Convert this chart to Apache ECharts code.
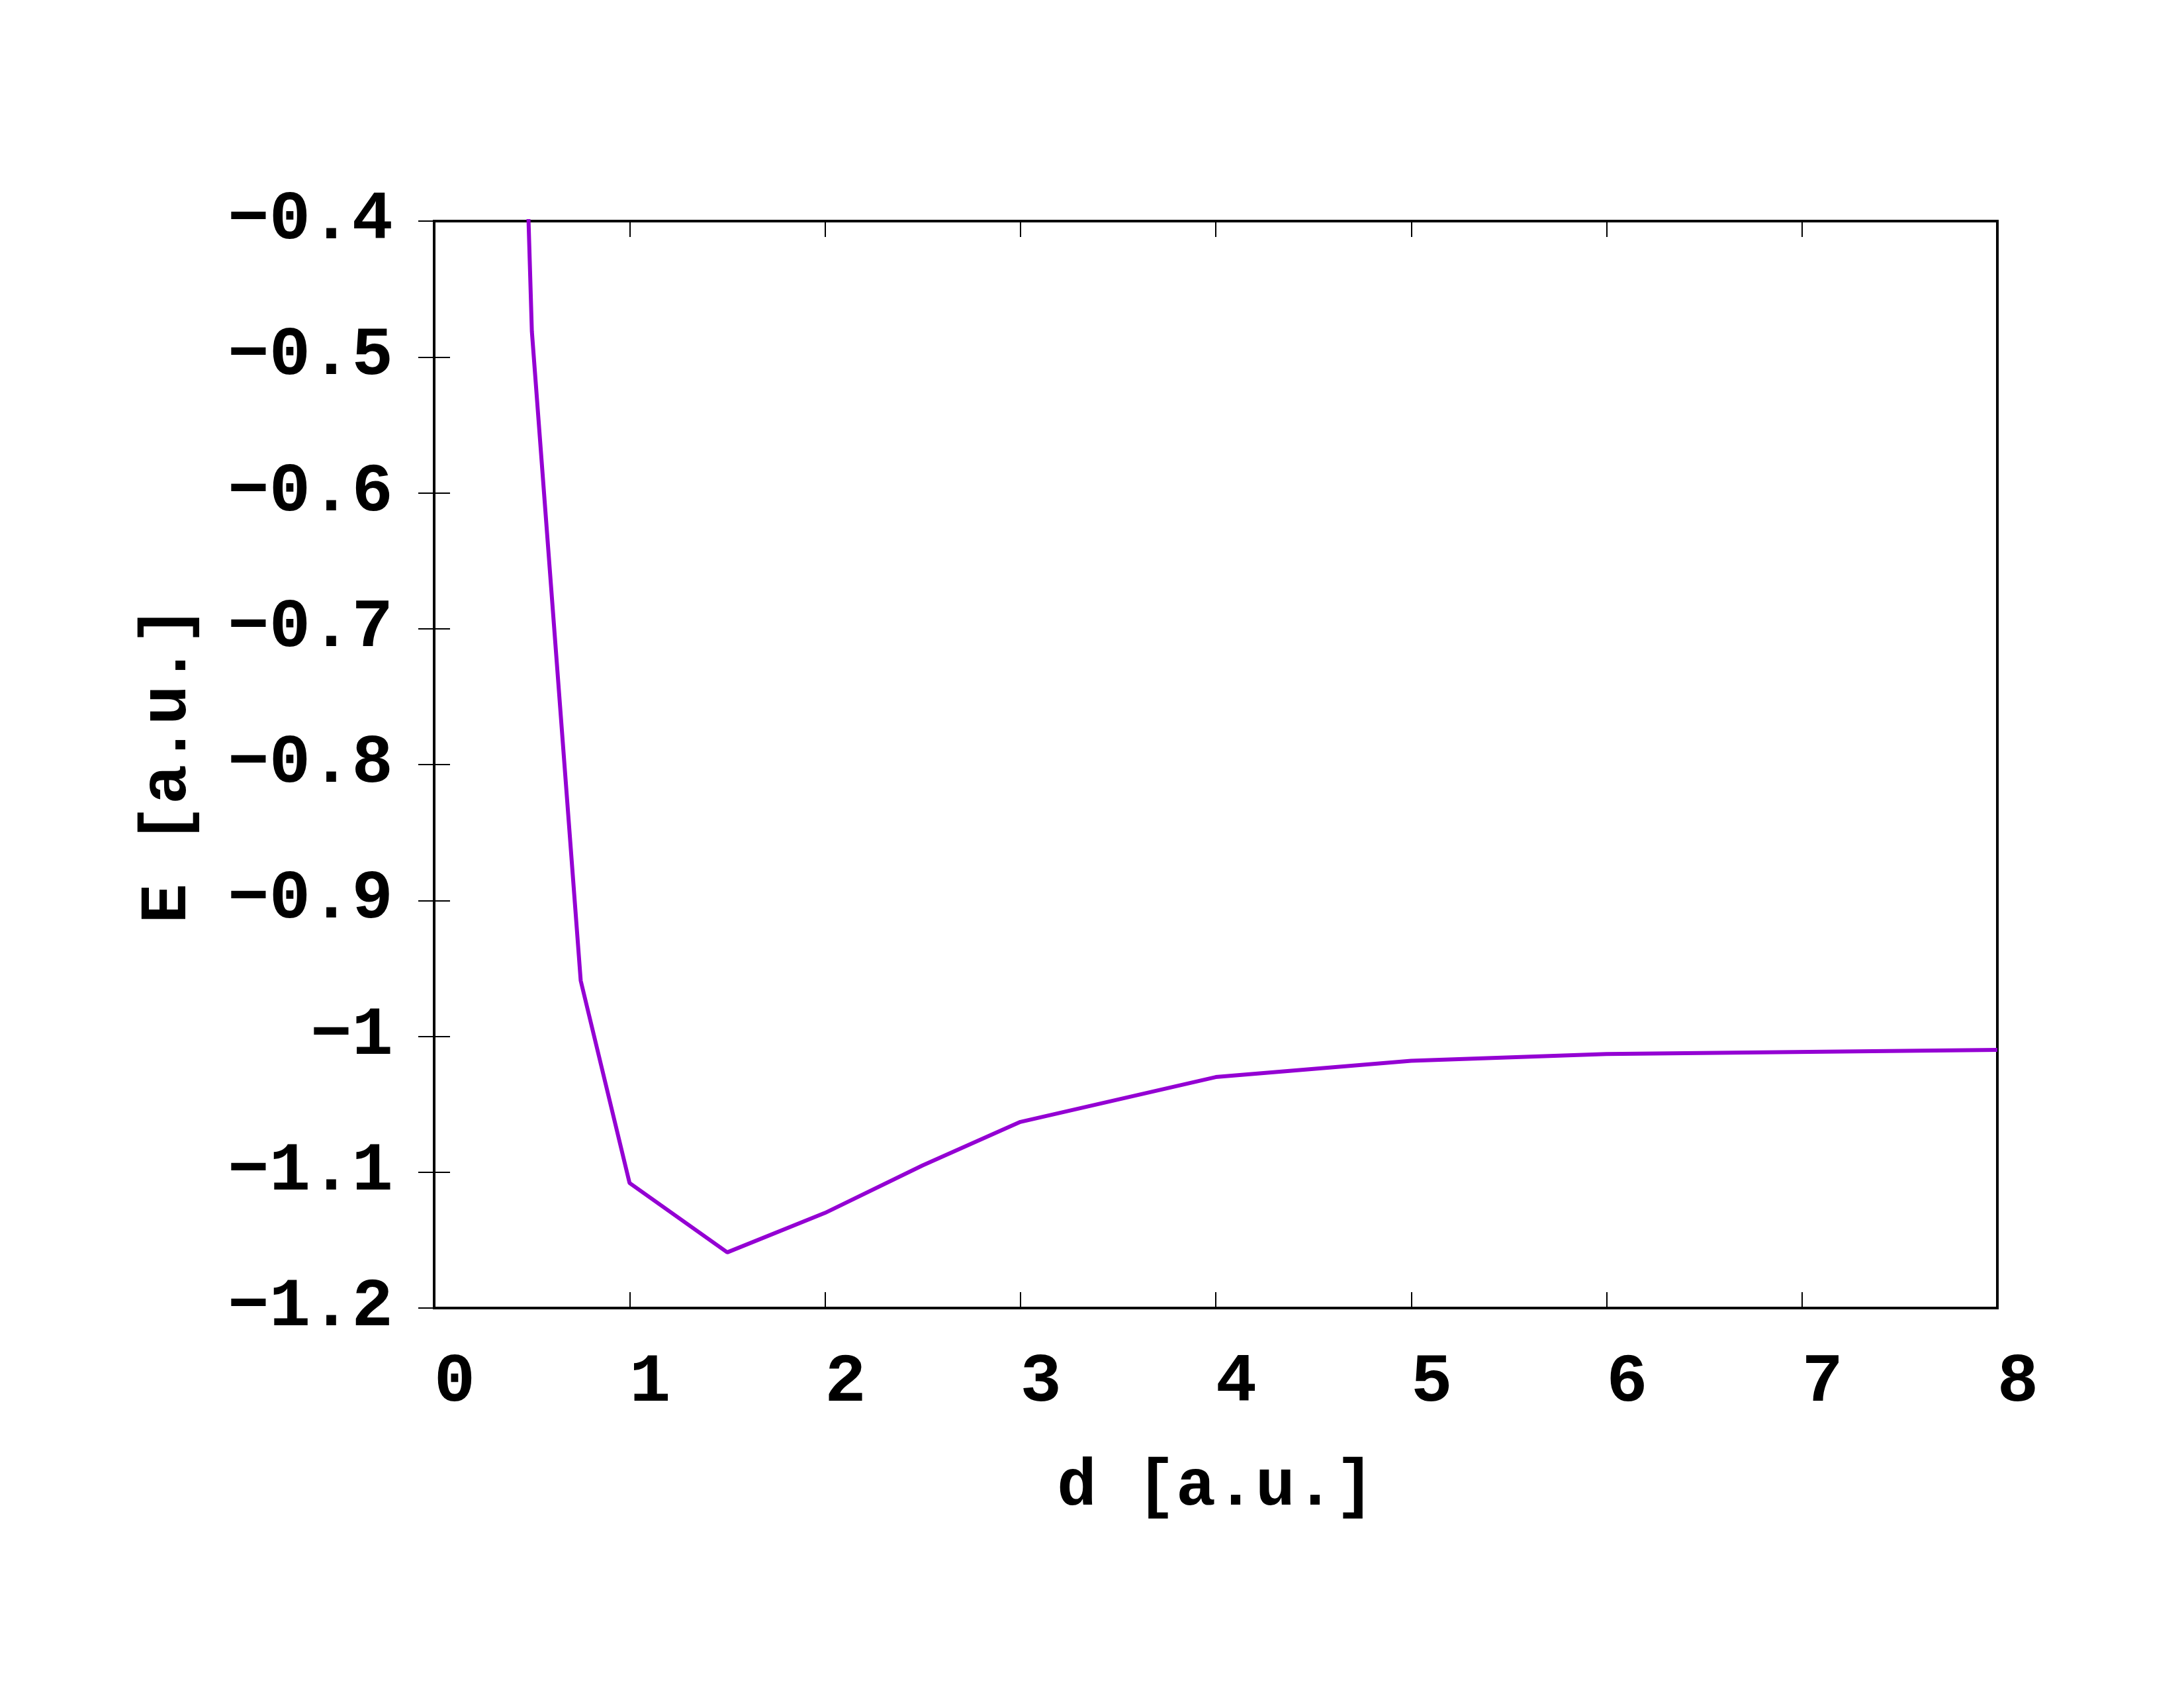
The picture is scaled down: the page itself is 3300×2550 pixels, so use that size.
<!DOCTYPE html>
<html>
<head>
<meta charset="utf-8">
<script src="https://cdn.jsdelivr.net/npm/echarts@6/dist/echarts.min.js"></script>
<style>
html,body{margin:0;padding:0;background:#fff;}
#chart{width:3300px;height:2550px;}
</style>
</head>
<body>
<div id="chart"></div>
<script>
// Data
const distances = [0.4, 0.5, 0.75, 1.0, 1.5, 2.0, 2.5, 3.0, 4.0, 5.0, 6.0, 8.0];
const energies = [-0.003, -0.481, -0.959, -1.108, -1.159, -1.130, -1.095, -1.063, -1.030, -1.018, -1.013, -1.010];
const xTicks = [0, 1, 2, 3, 4, 5, 6, 7, 8];
const yTicks = [-1.2, -1.1, -1.0, -0.9, -0.8, -0.7, -0.6, -0.5, -0.4];
const xTitle = 'd [a.u.]';
const yTitle = 'E [a.u.]';

const FONT = '"Liberation Mono", "Courier New", monospace';
const FS = 104;
const fmt = v => String(Math.round(v * 10) / 10).replace('-', '\u2212');

const chart = echarts.init(document.getElementById('chart'), null, {renderer: 'canvas'});
const baseX = {
  type: 'value', min: xTicks[0], max: xTicks[xTicks.length - 1], interval: 1,
  splitLine: {show: false}, axisLine: {show: false},
  axisTick: {show: true, inside: true, length: 24, lineStyle: {color: '#000', width: 2}}
};
const baseY = {
  type: 'value', min: yTicks[0], max: yTicks[yTicks.length - 1], interval: 0.1,
  splitLine: {show: false}, axisLine: {show: false},
  axisTick: {show: true, inside: true, length: 24, lineStyle: {color: '#000', width: 2}}
};
chart.setOption({
  animation: false,
  backgroundColor: '#fff',
  grid: {left: 656, right: 282, top: 334, bottom: 574, show: true, borderColor: '#000', borderWidth: 4, backgroundColor: 'transparent'},
  xAxis: [
    Object.assign({}, baseX, {
      position: 'bottom',
      name: xTitle, nameLocation: 'middle', nameGap: 222,
      nameTextStyle: {fontFamily: FONT, fontWeight: 'bold', fontSize: 100, color: '#000'},
      axisLabel: {show: true, margin: 62, fontFamily: FONT, fontWeight: 'bold', fontSize: FS, color: '#000',
        padding: [0, 0, 0, 62], formatter: fmt}
    }),
    Object.assign({}, baseX, {position: 'top', axisLabel: {show: false}})
  ],
  yAxis: [
    Object.assign({}, baseY, {
      position: 'left',
      name: yTitle, nameLocation: 'middle', nameGap: 351, nameRotate: 90,
      nameTextStyle: {fontFamily: FONT, fontWeight: 'bold', fontSize: 100, color: '#000'},
      axisLabel: {show: true, margin: 62, fontFamily: FONT, fontWeight: 'bold', fontSize: FS, color: '#000',
        padding: [8, 0, 0, 0], formatter: fmt}
    }),
    Object.assign({}, baseY, {position: 'right', axisLabel: {show: false}})
  ],
  series: [{
    type: 'line',
    xAxisIndex: 0, yAxisIndex: 0,
    data: distances.map((d, i) => [d, energies[i]]),
    showSymbol: false,
    clip: true,
    lineStyle: {color: '#9400D3', width: 6},
    itemStyle: {color: '#9400D3'}
  }]
});
</script>
</body>
</html>
